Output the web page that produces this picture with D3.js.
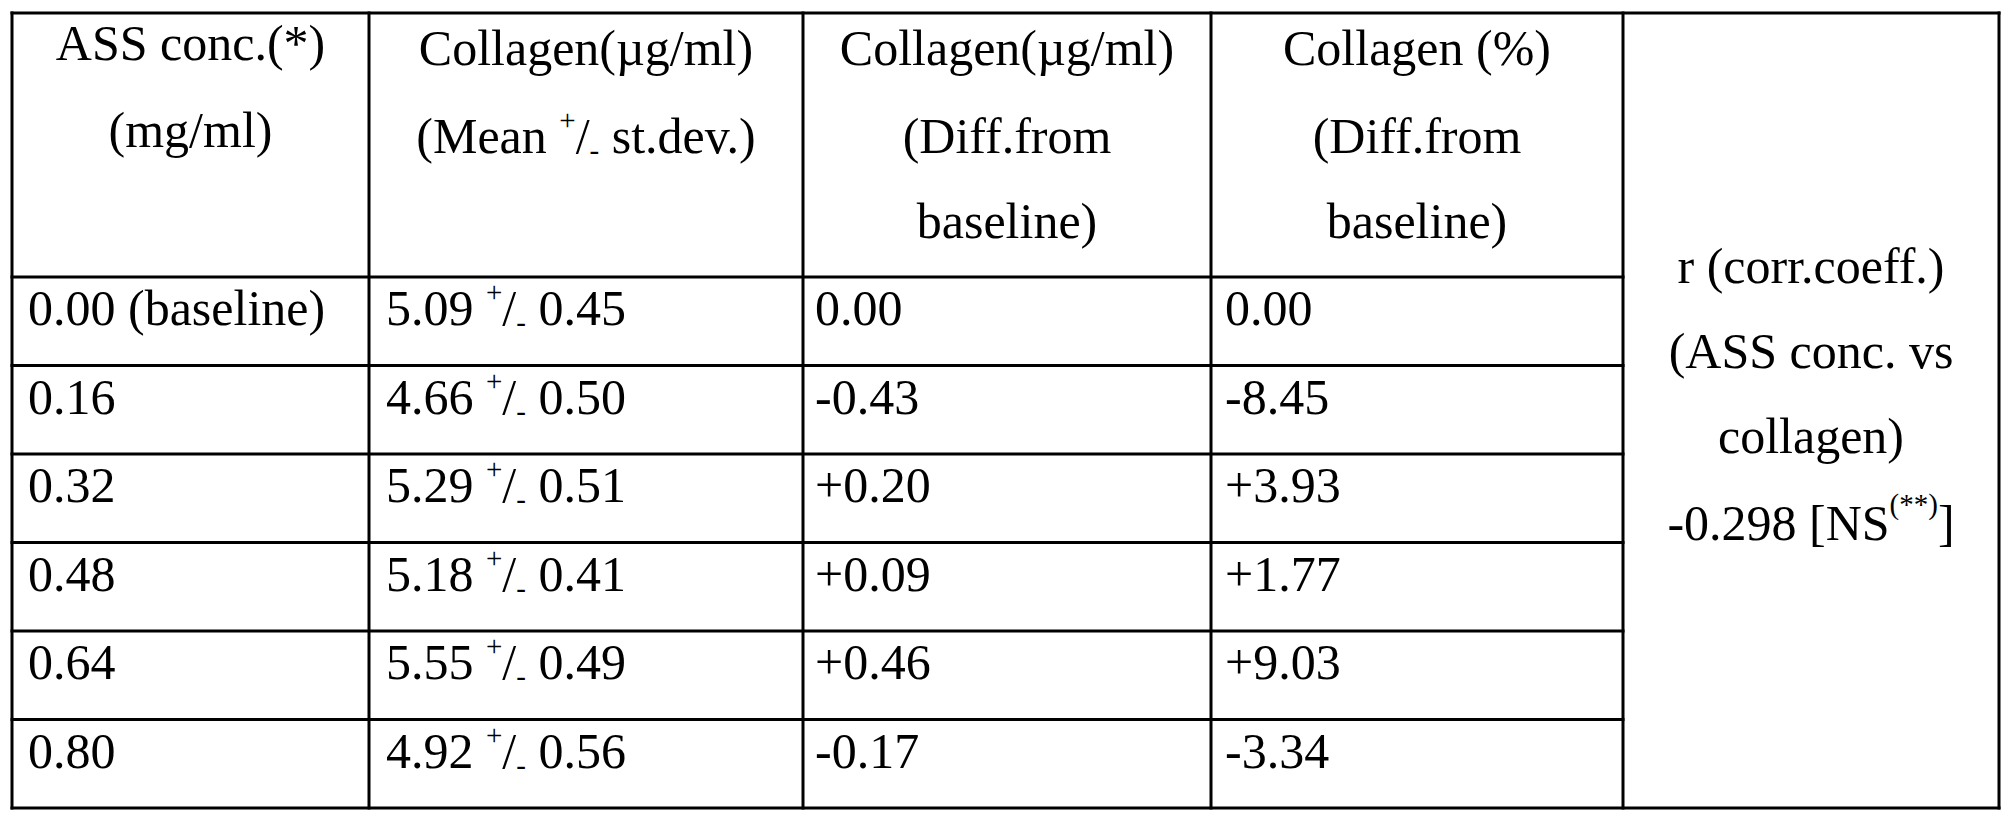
<!DOCTYPE html>
<html>
<head>
<meta charset="utf-8">
<script src="https://cdn.jsdelivr.net/npm/d3@7"></script>
<style>
  html, body { margin: 0; padding: 0; background: #fff; }
  text { font-family: "Liberation Serif", "Times New Roman", serif; fill: #000; }
</style>
</head>
<body>
<script>
// table values
const assConc = [0.00, 0.16, 0.32, 0.48, 0.64, 0.80];
const collagenMean = [5.09, 4.66, 5.29, 5.18, 5.55, 4.92];
const collagenSd = [0.45, 0.50, 0.51, 0.41, 0.49, 0.56];
const diffAbs = [0.00, -0.43, 0.20, 0.09, 0.46, -0.17];
const diffPct = [0.00, -8.45, 3.93, 1.77, 9.03, -3.34];
const corrR = -0.298;

const headerLines = [
    ['ASS conc.(*)', '(mg/ml)'],
    ['Collagen(\u00b5g/ml)', '(Mean |pm| st.dev.)'],
    ['Collagen(\u00b5g/ml)', '(Diff.from', 'baseline)'],
    ['Collagen (%)', '(Diff.from', 'baseline)'],
];
const corrLines = ['r (corr.coeff.)', '(ASS conc. vs', 'collagen)', '|r|'];

const measurements = {
    width: 2015,
    height: 825,
    fontSize: 50
};

// layout
const colEdges = [12, 369, 803, 1211, 1623, 1999];
const colPad = [16, 17, 12, 14];
const tableTop = 13, headBottom = 277, tableBottom = 808;
const headBaselines = [[60, 147], [65, 153], [65, 153, 238], [65, 153, 238]];
const corrBaselines = [283, 368, 453, 540];

const loc = d3.formatLocale({decimal: '.', thousands: ',', grouping: [3], currency: ['', ''], minus: '-'});
const f2 = loc.format('.2f');
const f2s = v => v === 0 ? f2(v) : loc.format('+.2f')(v);
const f3 = loc.format('.3f');

const svg = d3.select('body')
    .append('svg')
    .attr('width', measurements.width)
    .attr('height', measurements.height);

const rowY = d3.scaleBand()
    .domain(d3.range(assConc.length))
    .range([headBottom, tableBottom]);

// grid lines
const grid = svg.append('g')
    .attr('stroke', '#000')
    .attr('stroke-width', 3)
    .attr('stroke-linecap', 'square');

grid.selectAll('line.v')
    .data(colEdges)
    .enter()
    .append('line')
    .attr('x1', d => d).attr('x2', d => d)
    .attr('y1', tableTop).attr('y2', tableBottom);

grid.selectAll('line.h')
    .data([tableTop, tableBottom])
    .enter()
    .append('line')
    .attr('x1', colEdges[0]).attr('x2', colEdges[5])
    .attr('y1', d => d).attr('y2', d => d);

grid.selectAll('line.r')
    .data(rowY.domain())
    .enter()
    .append('line')
    .attr('x1', colEdges[0]).attr('x2', colEdges[4])
    .attr('y1', d => rowY(d)).attr('y2', d => rowY(d));

// writes "a +/- b" with raised plus and lowered minus
function plusMinus(sel, before, after) {
    sel.append('tspan').text(before + ' ');
    sel.append('tspan').attr('font-size', 29).attr('dy', -23).text('+');
    sel.append('tspan').attr('dy', 23).text('/');
    sel.append('tspan').attr('font-size', 29).attr('dy', 7).text('-');
    sel.append('tspan').attr('dy', -7).text(' ' + after);
}

// header
const head = svg.append('g').attr('font-size', measurements.fontSize);
headerLines.forEach((lines, c) => {
    const cx = (colEdges[c] + colEdges[c + 1]) / 2;
    lines.forEach((ln, i) => {
        const t = head.append('text')
            .attr('x', cx)
            .attr('y', headBaselines[c][i])
            .attr('text-anchor', 'middle');
        if (ln.indexOf('|pm|') >= 0) {
            const parts = ln.split(' |pm| ');
            plusMinus(t, parts[0], parts[1]);
        } else {
            t.text(ln);
        }
    });
});

// correlation cell, spans all rows
const cx4 = (colEdges[4] + colEdges[5]) / 2;
corrLines.forEach((ln, i) => {
    const t = head.append('text')
        .attr('x', cx4)
        .attr('y', corrBaselines[i])
        .attr('text-anchor', 'middle');
    if (ln === '|r|') {
        t.append('tspan').text(f3(corrR) + ' [NS');
        t.append('tspan').attr('font-size', 29).attr('dy', -26).text('(**)');
        t.append('tspan').attr('dy', 26).text(']');
    } else {
        t.text(ln);
    }
});

// body rows
const body = svg.append('g').attr('font-size', measurements.fontSize);
const rows = body.selectAll('g.row')
    .data(assConc.map((d, i) => ({
        conc: d, mean: collagenMean[i], sd: collagenSd[i], abs: diffAbs[i], pct: diffPct[i], i: i
    })))
    .enter()
    .append('g')
    .attr('transform', d => 'translate(0,' + (rowY(d.i) + 48) + ')');

rows.append('text')
    .attr('x', colEdges[0] + colPad[0])
    .text(d => f2(d.conc) + (d.i === 0 ? ' (baseline)' : ''));

rows.append('text')
    .attr('x', colEdges[1] + colPad[1])
    .each(function(d) { plusMinus(d3.select(this), f2(d.mean), f2(d.sd)); });

rows.append('text')
    .attr('x', colEdges[2] + colPad[2])
    .text(d => f2s(d.abs));

rows.append('text')
    .attr('x', colEdges[3] + colPad[3])
    .text(d => f2s(d.pct));
</script>
</body>
</html>
